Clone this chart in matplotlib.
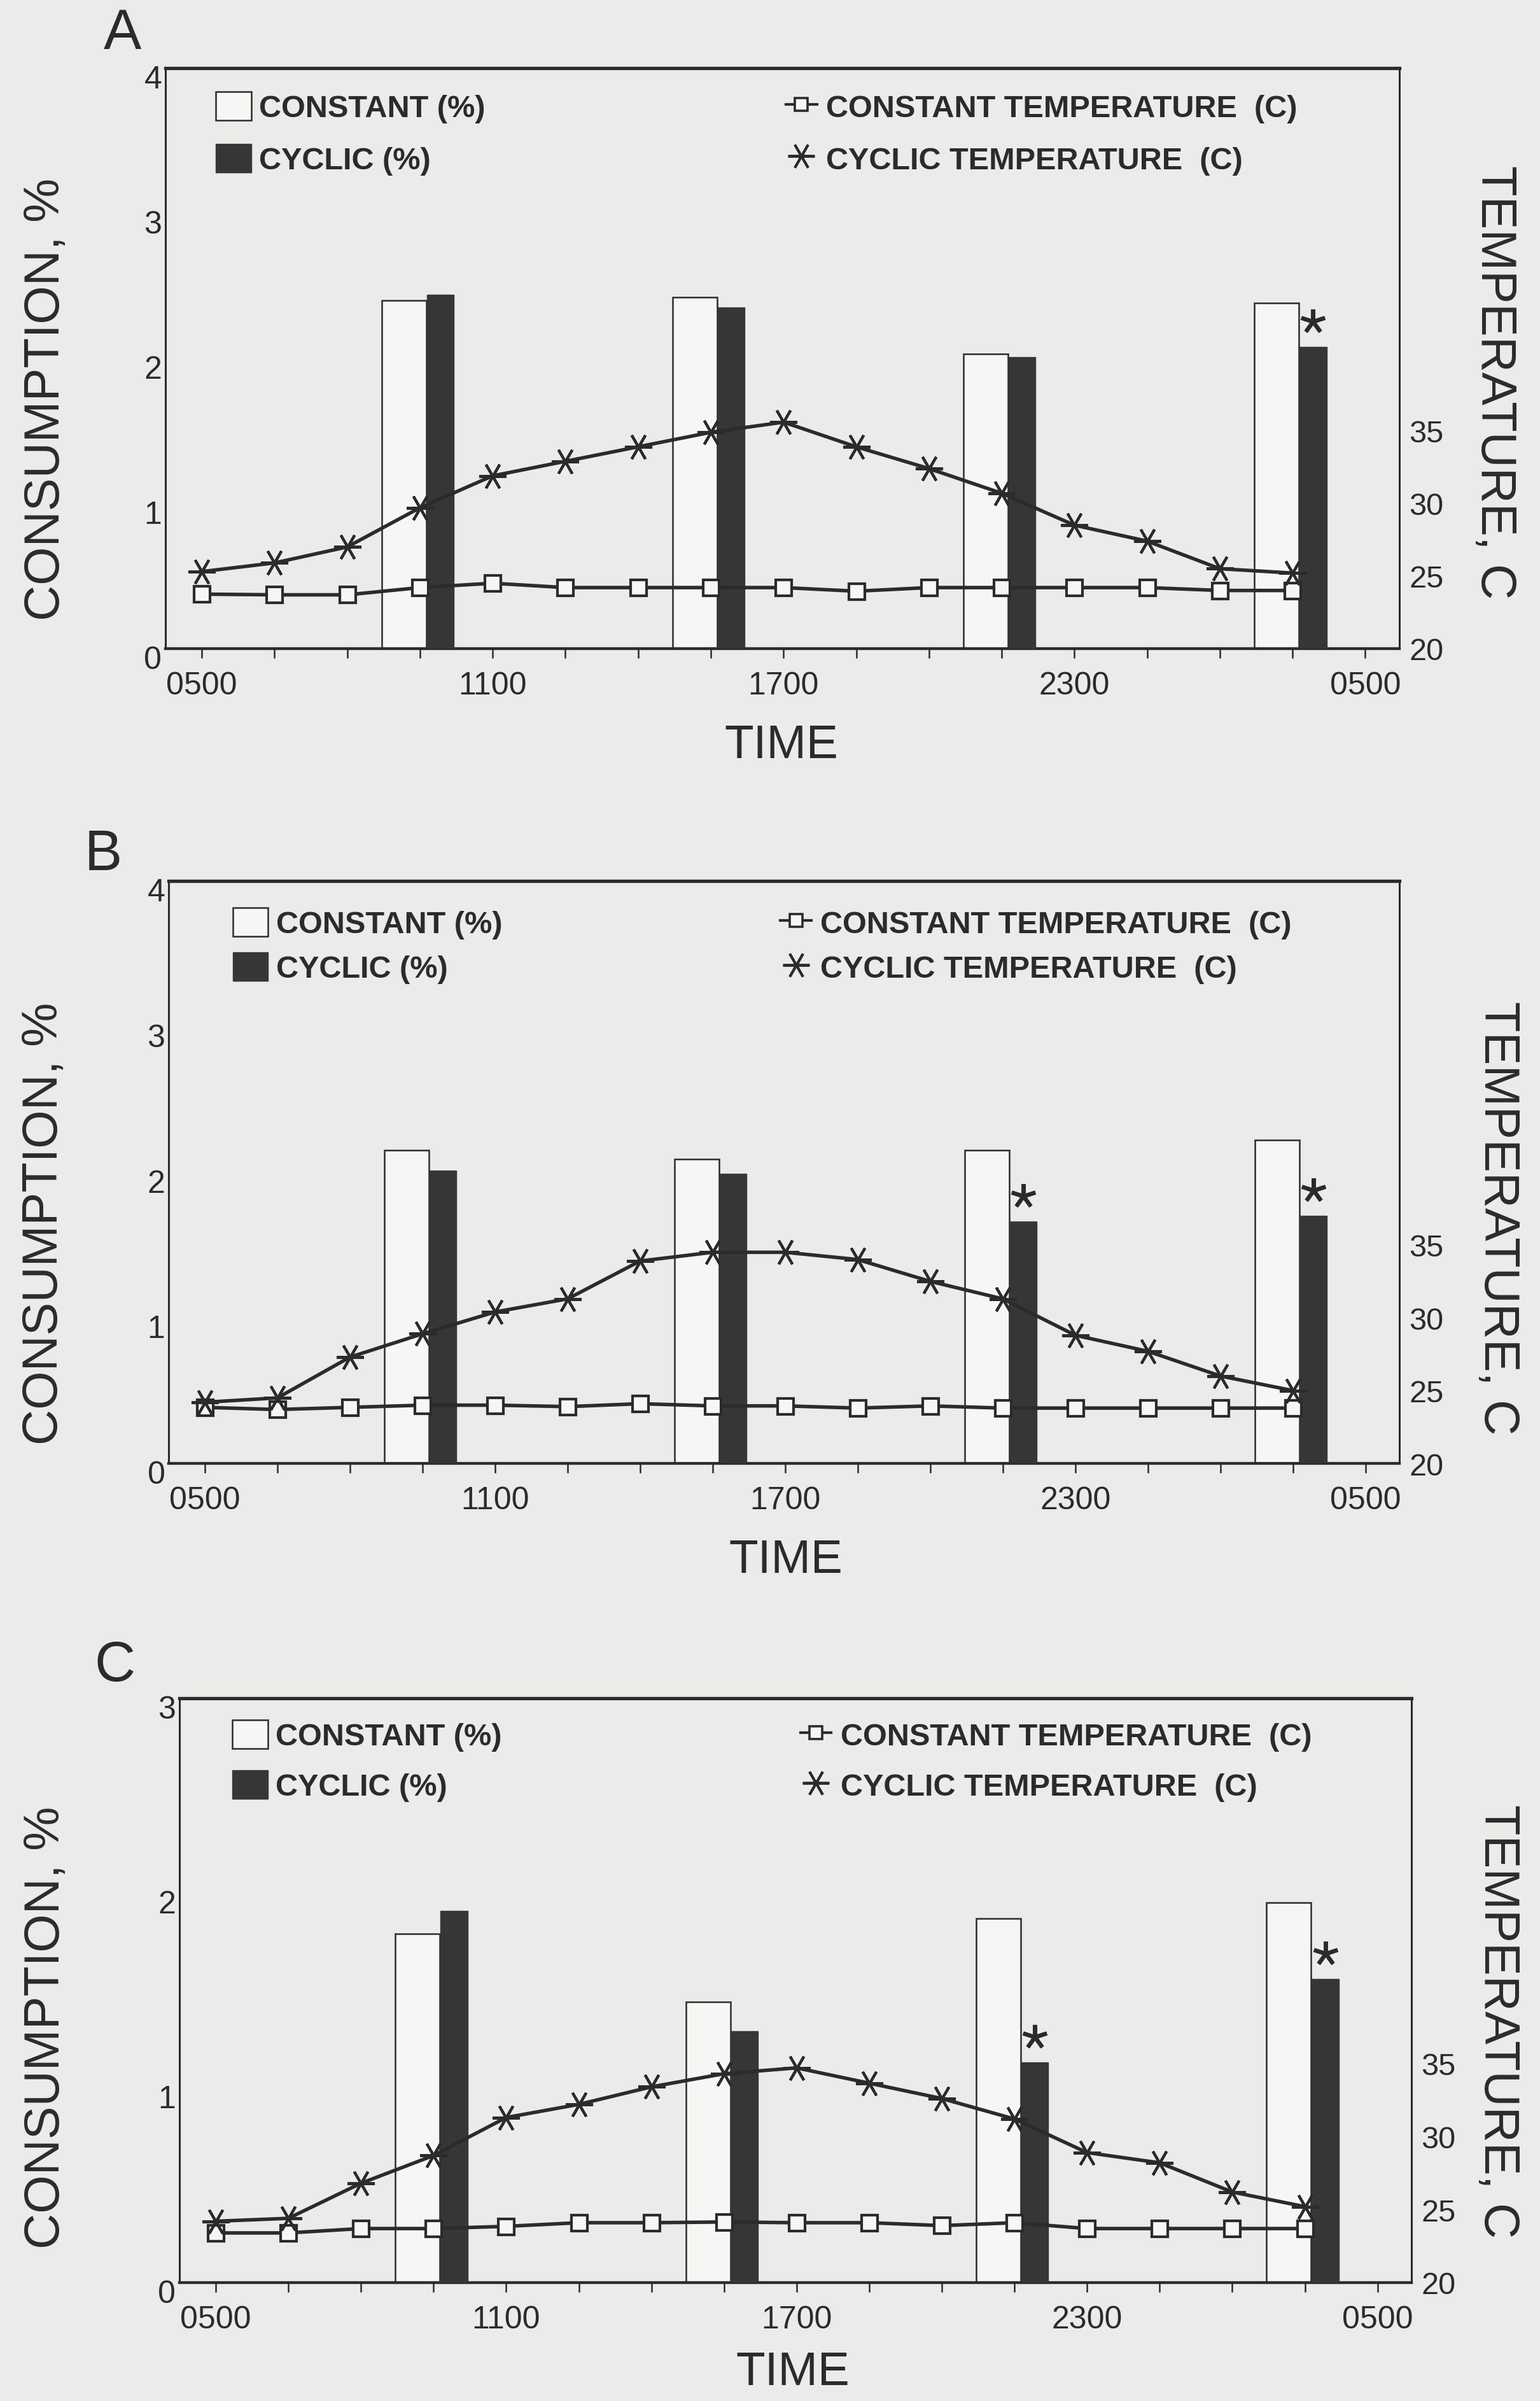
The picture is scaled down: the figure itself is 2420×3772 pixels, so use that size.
import matplotlib
matplotlib.use('Agg')
import matplotlib.pyplot as plt
from matplotlib.lines import Line2D
from matplotlib.ticker import MultipleLocator
from matplotlib.transforms import ScaledTranslation
import numpy as np

plt.rcParams['font.family'] = ['Liberation Sans', 'DejaVu Sans']

# ---------------- data ----------------
hours = [0, 1.5, 3, 4.5, 6, 7.5, 9, 10.5, 12, 13.5, 15, 16.5, 18, 19.5, 21, 22.5]  # hours after 0500
x_tick_pos = [0, 6, 12, 18, 24]
x_tick_labels = ['0500', '1100', '1700', '2300', '0500']
bar_times = [4.5, 10.5, 16.5, 22.5]
panel_letters = ['A', 'B', 'C']

a_constant_pct = [2.40, 2.42, 2.03, 2.38]
a_cyclic_pct = [2.44, 2.35, 2.01, 2.08]
a_signif = [False, False, False, True]
a_constant_temp = [23.75, 23.7, 23.7, 24.2, 24.5, 24.2, 24.2, 24.2, 24.2, 23.95, 24.2, 24.2, 24.2, 24.2, 24.0, 24.0]
a_cyclic_temp = [25.3, 25.9, 27.0, 29.7, 31.9, 32.9, 33.9, 34.9, 35.6, 33.9, 32.4, 30.7, 28.5, 27.4, 25.5, 25.2]

b_constant_pct = [2.15, 2.09, 2.15, 2.22]
b_cyclic_pct = [2.01, 1.99, 1.66, 1.70]
b_signif = [False, False, True, True]
b_constant_temp = [23.85, 23.7, 23.85, 24.0, 24.0, 23.9, 24.1, 23.95, 23.95, 23.8, 23.95, 23.8, 23.8, 23.8, 23.8, 23.8]
b_cyclic_temp = [24.2, 24.5, 27.3, 28.9, 30.4, 31.3, 33.9, 34.5, 34.5, 34.0, 32.5, 31.3, 28.8, 27.7, 26.0, 25.0]

c_constant_pct = [1.79, 1.44, 1.87, 1.95]
c_cyclic_pct = [1.91, 1.29, 1.13, 1.56]
c_signif = [False, False, True, True]
c_constant_temp = [23.4, 23.4, 23.7, 23.7, 23.85, 24.1, 24.1, 24.15, 24.1, 24.1, 23.9, 24.1, 23.7, 23.7, 23.7, 23.7]
c_cyclic_temp = [24.2, 24.4, 26.8, 28.7, 31.3, 32.2, 33.4, 34.3, 34.7, 33.65, 32.6, 31.2, 28.9, 28.2, 26.2, 25.2]

consumption_ticks_ab = [0, 1, 2, 3, 4]
consumption_ticks_c = [0, 1, 2, 3]
temp_ticks = [20, 25, 30, 35]

# ---------------- style ----------------
BG = '#ebebe9'
INK = '#2b2b2b'
DARK = '#363636'
WHITE = '#f6f6f4'
W_OFF, W_W = -0.33, 0.92
B_OFF, B_W = 0.42, 0.56
TICK_FS = 36
LEG_FS = 35

fig = plt.figure(figsize=(24.2, 37.73), dpi=100, facecolor=BG)

panels = [
    dict(rect=[0.1074, 0.7297, 0.8012, 0.2417], ymax=4, yticks=consumption_ticks_ab,
         cons=a_constant_pct, cyc=a_cyclic_pct, sig=a_signif, ct=a_constant_temp, yt=a_cyclic_temp,
         ylab=(-0.0964, 0.430), rlab=(1.077, 0.46), xlab=(0.499, -0.166),
         leg1=(0.041, 0.959), leg2=(0.503, 0.959), ls=0.66, letter=(0.0797, 0.9857)),
    dict(rect=[0.1095, 0.3904, 0.7992, 0.2425], ymax=4, yticks=consumption_ticks_ab,
         cons=b_constant_pct, cyc=b_cyclic_pct, sig=b_signif, ct=b_constant_temp, yt=b_cyclic_temp,
         ylab=(-0.101, 0.413), rlab=(1.080, 0.422), xlab=(0.5015, -0.166),
         leg1=(0.052, 0.954), leg2=(0.497, 0.954), ls=0.43, letter=(0.067, 0.6438)),
    dict(rect=[0.1165, 0.0493, 0.8000, 0.2433], ymax=3, yticks=consumption_ticks_c,
         cons=c_constant_pct, cyc=c_cyclic_pct, sig=c_signif, ct=c_constant_temp, yt=c_cyclic_temp,
         ylab=(-0.108, 0.437), rlab=(1.070, 0.448), xlab=(0.498, -0.153),
         leg1=(0.043, 0.963), leg2=(0.504, 0.963), ls=0.62, letter=(0.0748, 0.3061)),
]

leg_prop = dict(weight='bold', size=LEG_FS)

for p, letter in zip(panels, panel_letters):
    ax = fig.add_axes(p['rect'])
    ax.set_facecolor(BG)
    bt = np.array(bar_times)

    bars_c = ax.bar(bt + W_OFF, p['cons'], width=W_W, color=WHITE, edgecolor=INK,
                    linewidth=1.8, zorder=2)
    bars_y = ax.bar(bt + B_OFF, p['cyc'], width=B_W, color=DARK, edgecolor=DARK,
                    linewidth=1.0, zorder=3)
    star_tr = ax.transData + ScaledTranslation(0, 0.40, fig.dpi_scale_trans)
    for t, h, s in zip(bt, p['cyc'], p['sig']):
        if s:
            ax.plot([t + B_OFF], [h], marker=(5, 2, 0), ms=28, mew=4.5, color=INK,
                    transform=star_tr, clip_on=False, zorder=4)

    ax.set_xlim(-0.75, 24.7)
    ax.set_ylim(0, p['ymax'])
    ax.set_xticks(x_tick_pos, x_tick_labels)
    ax.xaxis.set_minor_locator(MultipleLocator(1.5))
    ax.set_yticks(p['yticks'])
    ax.tick_params(axis='x', which='both', direction='out', length=11, width=1.8,
                   color=INK, pad=14, labelsize=TICK_FS, labelcolor=INK)
    ax.tick_params(axis='y', length=0, pad=4, labelsize=TICK_FS, labelcolor=INK)
    for lab in ax.get_yticklabels():
        lab.set_transform(lab.get_transform() + ScaledTranslation(0, -0.13, fig.dpi_scale_trans))

    for side, lw in [('top', 3.8), ('bottom', 3.2), ('left', 2.2), ('right', 2.2)]:
        ax.spines[side].set_linewidth(lw)
        ax.spines[side].set_color(INK)

    ax.set_xlabel('TIME', fontsize=54, color=INK, va='center')
    ax.xaxis.set_label_coords(*p['xlab'])
    ax.set_ylabel('CONSUMPTION, %', fontsize=56, color=INK, va='center')
    ax.yaxis.set_label_coords(*p['ylab'])

    ax2 = ax.twinx()
    ax2.set_ylim(20, 60)
    ax2.set_yticks(temp_ticks)
    ax2.tick_params(axis='y', length=0, pad=11, labelsize=TICK_FS - 1, labelcolor=INK)
    for s in ax2.spines.values():
        s.set_visible(False)
    ax2.plot(hours, p['ct'], color=INK, lw=4.0, marker='s', ms=18, mfc=WHITE,
             mec=INK, mew=3.0, zorder=3)
    ax2.plot(hours, p['yt'], color=INK, lw=4.0, marker=(6, 2, 90), ms=31,
             mew=3.0, zorder=4)
    ax2.set_ylabel('TEMPERATURE, C', fontsize=56, color=INK, rotation=270, va='center')
    ax2.yaxis.set_label_coords(*p['rlab'])

    ax.legend([bars_c, bars_y], ['CONSTANT (%)', 'CYCLIC (%)'], loc='upper left',
              bbox_to_anchor=p['leg1'], frameon=False, borderpad=0, borderaxespad=0,
              handlelength=1.15, handleheight=1.05, handletextpad=0.25,
              labelspacing=p['ls'], prop=leg_prop, labelcolor=INK)
    h_ct = Line2D([], [], color=INK, lw=3.0, marker='s', ms=15, mfc=WHITE, mec=INK, mew=2.6)
    h_yt = Line2D([], [], color=INK, ls='none', marker=(6, 2, 90), ms=30, mew=2.8)
    ax2.legend([h_ct, h_yt], ['CONSTANT TEMPERATURE  (C)', 'CYCLIC TEMPERATURE  (C)'],
               loc='upper left', bbox_to_anchor=p['leg2'], frameon=False, borderpad=0,
               borderaxespad=0, handlelength=1.0, handleheight=1.05, handletextpad=0.3,
               labelspacing=p['ls'], numpoints=1, prop=leg_prop, labelcolor=INK)

    fig.text(p['letter'][0], p['letter'][1], letter, fontsize=64, color=INK,
             ha='center', va='center')

fig.savefig('out.png', dpi=100, facecolor=BG)
